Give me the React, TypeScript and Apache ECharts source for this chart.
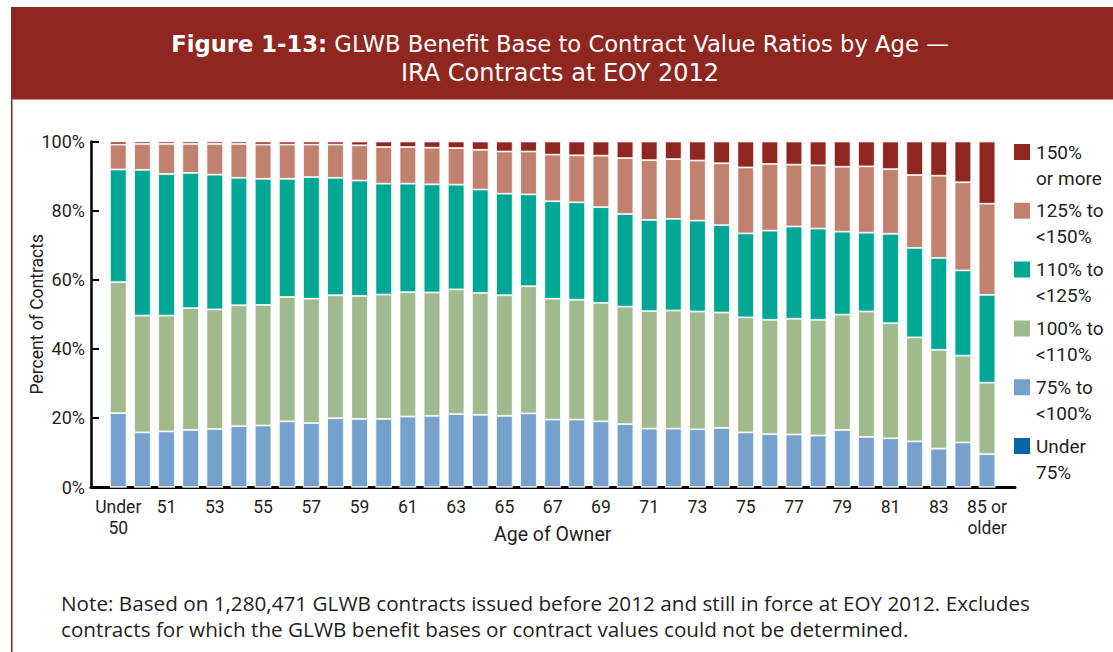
import React, { useEffect, useRef } from 'react';
import * as echarts from 'echarts';

const categories = [
  'Under\n50', '50', '51', '52', '53', '54', '55', '56', '57', '58', '59', '60', '61', '62', '63', '64', '65',
  '66', '67', '68', '69', '70', '71', '72', '73', '74', '75', '76', '77', '78', '79', '80', '81', '82', '83', '84',
  '85 or\nolder',
];

const under75 = [
  0, 0, 0, 0, 0, 0, 0, 0, 0, 0, 0, 0, 0, 0, 0, 0, 0, 0, 0, 0, 0, 0, 0, 0, 0, 0, 0, 0, 0, 0, 0, 0, 0, 0, 0, 0, 0,
];
const p75to100 = [
  21.4, 15.8, 16.1, 16.5, 16.8, 17.6, 17.8, 19.0, 18.5, 19.9, 19.7, 19.7, 20.4, 20.6, 21.1, 20.9, 20.6, 21.3, 19.5,
  19.5, 19.0, 18.2, 16.9, 16.9, 16.7, 17.1, 15.8, 15.3, 15.2, 14.9, 16.5, 14.5, 14.1, 13.2, 11.1, 12.9, 9.5,
];
const p100to110 = [
  37.9, 33.8, 33.5, 35.3, 34.6, 35.0, 34.9, 36.0, 36.0, 35.6, 35.6, 36.0, 36.0, 35.7, 36.1, 35.3, 34.9, 36.8, 35.0,
  34.7, 34.3, 34.0, 34.0, 34.2, 34.1, 33.4, 33.3, 33.1, 33.5, 33.5, 33.4, 36.3, 33.3, 30.1, 28.6, 25.1, 20.7,
];
const p110to125 = [
  32.6, 42.2, 41.0, 39.1, 39.0, 36.9, 36.5, 34.2, 35.2, 34.0, 33.4, 32.1, 31.4, 31.3, 30.3, 29.9, 29.4, 26.6, 28.2,
  28.2, 27.7, 26.8, 26.4, 26.5, 26.3, 25.3, 24.3, 25.8, 26.7, 26.4, 24.0, 22.8, 25.9, 25.9, 26.6, 24.7, 25.4,
];
const p125to150 = [
  7.2, 7.5, 8.7, 8.4, 8.9, 9.8, 9.9, 9.9, 9.4, 9.6, 10.2, 10.6, 10.6, 10.6, 10.6, 11.5, 12.2, 12.4, 13.5, 13.6,
  14.9, 16.2, 17.3, 17.3, 17.4, 17.9, 19.1, 19.3, 17.9, 18.3, 18.8, 19.2, 18.7, 21.1, 23.8, 25.5, 26.4,
];
const p150plus = [
  0.9, 0.7, 0.7, 0.7, 0.7, 0.7, 0.9, 0.9, 0.9, 0.9, 1.1, 1.6, 1.6, 1.8, 1.9, 2.4, 2.9, 2.9, 3.8, 4.0, 4.1, 4.8,
  5.4, 5.1, 5.5, 6.3, 7.5, 6.5, 6.7, 6.9, 7.3, 7.2, 8.0, 9.7, 9.9, 11.8, 18.0,
];

const seriesNames = ['Under 75%', '75% to <100%', '100% to <110%', '110% to <125%', '125% to <150%', '150% or more'];
const legendLabels = ['Under\n75%', '75% to\n<100%', '100% to\n<110%', '110% to\n<125%', '125% to\n<150%', '150%\nor more'];
const seriesColors = ['#0a64a6', '#76a1cd', '#a0ba8d', '#00a794', '#c0826f', '#8f2620'];
const seriesData = [under75, p75to100, p100to110, p110to125, p125to150, p150plus];
const yTicks = { min: 0, max: 100, interval: 20 };

const TITLE_TEXT =
  '{b|Figure 1-13:}{r| GLWB Benefit Base to Contract Value Ratios by Age \u2014}\n{l|IRA Contracts at EOY 2012}';
const NOTE_LINE_1 = 'Note: Based on 1,280,471 GLWB contracts issued before 2012 and still in force at EOY 2012. Excludes';
const NOTE_LINE_2 = 'contracts for which the GLWB benefit bases or contract values could not be determined.';

const AX = 'Roboto, "Liberation Sans", sans-serif';
const TXT = '"Open Sans", "Liberation Sans", sans-serif';
const TTL = '"DejaVu Sans", "Open Sans", sans-serif';
const INK = '#231f20';
const RED = '#8f2620';

export default function App() {
  const ref = useRef<HTMLDivElement>(null);
  useEffect(() => {
    const chart = echarts.init(ref.current!, null, { renderer: 'svg' });
    const labelMap: Record<string, string> = {};
    seriesNames.forEach((n, i) => (labelMap[n] = legendLabels[i]));
    chart.setOption({
      animation: false,
      backgroundColor: '#ffffff',
      graphic: [
        { type: 'rect', z: 0, shape: { x: 11, y: 7, width: 1102, height: 92.5 }, style: { fill: RED } },
        { type: 'line', z: 0, shape: { x1: 11.75, y1: 99, x2: 11.75, y2: 652 }, style: { stroke: RED, lineWidth: 1.5 } },
        {
          type: 'text', z: 10,
          style: {
            text: TITLE_TEXT, x: 560, y: 58.5, align: 'center', verticalAlign: 'middle',
            fill: '#ffffff', fontSize: 22.7, lineHeight: 29, fontFamily: TTL,
            rich: {
              b: { fontWeight: 'bold', fontSize: 22.7, lineHeight: 29, fill: '#ffffff', fontFamily: TTL },
              r: { fontSize: 22.7, lineHeight: 29, fill: '#ffffff', fontFamily: TTL },
              l: { fontSize: 24, lineHeight: 29, fill: '#ffffff', fontFamily: TTL },
            },
          },
        },
        {
          type: 'text', z: 10,
          style: {
            text: NOTE_LINE_1 + '\n' + NOTE_LINE_2, x: 61, y: 616, align: 'left', verticalAlign: 'middle',
            fill: INK, fontSize: 20.7, lineHeight: 26, fontFamily: TXT,
          },
        },
      ],
      legend: {
        orient: 'vertical', left: 1012, top: 113, padding: 0,
        itemWidth: 18, itemHeight: 18, itemGap: -19.2, icon: 'rect',
        data: [...seriesNames].reverse(),
        formatter: (n: string) => '\n' + (labelMap[n] || n),
        textStyle: { fontFamily: AX, fontSize: 19, lineHeight: 26, color: INK },
      },
      grid: [
        { left: 106.2, right: 113.9, top: 141.5, bottom: 165 },
        { left: 91, right: 98, top: 141.5, bottom: 165 },
      ],
      xAxis: [
        {
          type: 'category', gridIndex: 0, data: categories,
          axisLine: { show: false }, axisTick: { show: false },
          axisLabel: { interval: 1, margin: 9, fontSize: 17.5, lineHeight: 21, color: INK, fontFamily: AX },
          name: 'Age of Owner', nameLocation: 'middle', nameGap: 37, nameMoveOverlap: false,
          nameTextStyle: { fontSize: 19.5, color: INK, fontFamily: AX },
        },
        {
          type: 'value', gridIndex: 1, min: 0, max: 1,
          axisLine: { show: true, lineStyle: { color: '#000', width: 3 } },
          axisTick: { show: false }, axisLabel: { show: false }, splitLine: { show: false },
        },
      ],
      yAxis: [
        {
          type: 'value', gridIndex: 0, min: yTicks.min, max: yTicks.max, interval: yTicks.interval, offset: 15.2,
          axisLine: { show: true, lineStyle: { color: '#000', width: 2.5 } },
          axisTick: { show: true, inside: true, length: 8, lineStyle: { color: '#000', width: 2 } },
          axisLabel: { formatter: '{value}%', margin: 6, fontSize: 18, color: INK, fontFamily: AX },
          splitLine: { show: false },
          name: 'Percent of Contracts', nameLocation: 'middle', nameGap: 45, nameMoveOverlap: false,
          nameTextStyle: { fontSize: 17.5, color: INK, fontFamily: AX },
        },
        { type: 'value', gridIndex: 1, min: 0, max: 1, show: false },
      ],
      series: seriesNames.map((name, i) => ({
        type: 'bar', name, stack: 'total', xAxisIndex: 0, yAxisIndex: 0,
        data: seriesData[i], barWidth: '69%',
        itemStyle: { color: seriesColors[i], borderColor: '#ffffff', borderWidth: 0.8 },
      })),
    });
    return () => chart.dispose();
  }, []);
  return <div ref={ref} style={{ position: 'absolute', left: 0, top: 0, width: 1113, height: 652 }} />;
}
